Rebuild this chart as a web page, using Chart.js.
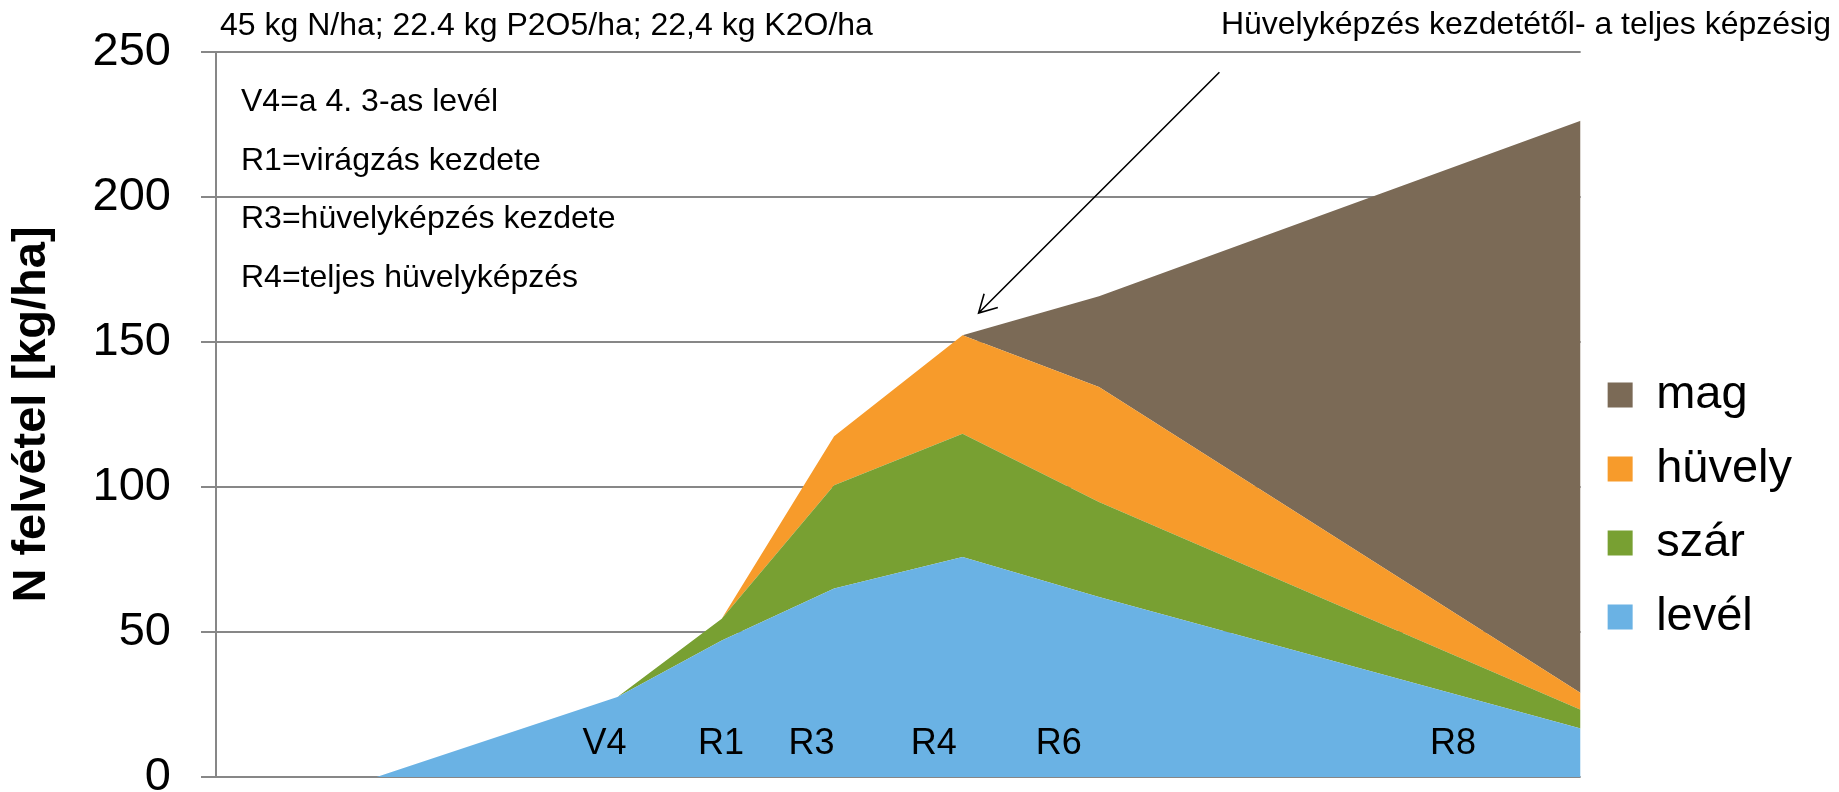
<!DOCTYPE html>
<html>
<head>
<meta charset="utf-8">
<script src="https://cdn.jsdelivr.net/npm/chart.js@4"></script>
<style>
html,body{margin:0;padding:0;background:#fff;}
canvas{display:block;}
</style>
</head>
<body>
<canvas id="c" width="1839" height="792"></canvas>
<script>
// ---- data (days after emergence, N uptake kg/ha per plant part) ----
const days   = [20, 50, 63, 77, 93, 110, 170];
const level  = [0, 27.6, 47.1, 65.0, 75.9, 62.1, 16.7];
const szar   = [0, 0, 7.5, 35.6, 42.5, 32.7, 6.5];
const huvely = [0, 0, 0, 16.9, 33.9, 39.7, 5.8];
const mag    = [0, 0, 0, 0, 0, 31.3, 197.3];
const seriesNames = ['levél', 'szár', 'hüvely', 'mag'];
const yTickValues = [0, 50, 100, 150, 200, 250];
const stageNames = ['V4', 'R1', 'R3', 'R4', 'R6', 'R8'];
const stageLabelDays = [48.4, 62.9, 74.2, 89.4, 105.0, 154.1];
const stageLabelBase = 7.8;
const headerText = '45 kg N/ha; 22.4 kg P2O5/ha; 22,4 kg K2O/ha';
const noteLines = ['V4=a 4. 3-as levél', 'R1=virágzás kezdete', 'R3=hüvelyképzés kezdete', 'R4=teljes hüvelyképzés'];
const arrowText = 'Hüvelyképzés kezdetétől- a teljes képzésig';
const arrowFrom = [125, 243];
const arrowTo = [95, 160];
const yTitle = 'N felvétel [kg/ha]';

const FAM = '"Liberation Sans", Arial, Helvetica, sans-serif';
const colors = ['#6AB2E4', '#78A032', '#F79B2B', '#7B6A56'];
const seriesValues = [level, szar, huvely, mag];

const datasets = seriesValues.map((vals, k) => ({
  label: seriesNames[k],
  data: days.map((d, i) => ({x: d, y: vals[i]})),
  backgroundColor: colors[k],
  borderColor: colors[k],
  borderWidth: 0,
  pointRadius: 0,
  pointHoverRadius: 0,
  tension: 0,
  fill: k === 0 ? 'origin' : '-1'
}));

const annotations = {
  id: 'annotations',
  afterDatasetsDraw(chart) {
    const {ctx, scales: {x, y}} = chart;
    ctx.save();
    ctx.fillStyle = '#000';
    ctx.textBaseline = 'alphabetic';
    // stage labels inside plot
    ctx.font = '36px ' + FAM;
    ctx.textAlign = 'center';
    stageNames.forEach((n, i) => {
      ctx.fillText(n, x.getPixelForValue(stageLabelDays[i]), y.getPixelForValue(stageLabelBase));
    });
    // header / notes
    ctx.font = '32px ' + FAM;
    ctx.textAlign = 'left';
    ctx.fillText(headerText, 220, 35);
    noteLines.forEach((t, i) => ctx.fillText(t, 241, 111 + i * 58.5));
    ctx.textAlign = 'right';
    ctx.fillText(arrowText, 1831, 34);
    // arrow
    const x1 = x.getPixelForValue(arrowFrom[0]), y1 = y.getPixelForValue(arrowFrom[1]);
    const x2 = x.getPixelForValue(arrowTo[0]), y2 = y.getPixelForValue(arrowTo[1]);
    ctx.strokeStyle = '#000';
    ctx.lineWidth = 1.6;
    ctx.beginPath();
    ctx.moveTo(x1, y1);
    ctx.lineTo(x2, y2);
    const ang = Math.atan2(y1 - y2, x1 - x2);
    const hl = 20, ha = 29 * Math.PI / 180;
    ctx.moveTo(x2 + hl * Math.cos(ang - ha), y2 + hl * Math.sin(ang - ha));
    ctx.lineTo(x2, y2);
    ctx.lineTo(x2 + hl * Math.cos(ang + ha), y2 + hl * Math.sin(ang + ha));
    ctx.stroke();
    ctx.restore();
  }
};

new Chart(document.getElementById('c'), {
  type: 'line',
  data: {datasets},
  options: {
    responsive: false,
    animation: false,
    devicePixelRatio: 1,
    layout: {padding: {left: 0, right: 37, top: 52, bottom: 15}},
    scales: {
      x: {
        type: 'linear',
        min: 0,
        max: 170,
        display: false
      },
      y: {
        stacked: true,
        min: 0,
        max: 250,
        afterFit(s) { s.width = 216; s.paddingTop = 0; s.paddingBottom = 0; },
        afterBuildTicks(s) { s.ticks = yTickValues.map(v => ({value: v})); },
        ticks: {
          color: '#000',
          padding: 30,
          font: {family: FAM, size: 47}
        },
        grid: {
          color: '#878787',
          lineWidth: 2,
          tickLength: 15,
          tickColor: '#878787'
        },
        border: {display: true, color: '#878787', width: 2},
        title: {
          display: true,
          text: yTitle,
          color: '#000',
          padding: {top: 4, bottom: 0},
          font: {family: FAM, size: 47, weight: 'bold'}
        }
      }
    },
    plugins: {
      tooltip: {enabled: false},
      legend: {
        position: 'right',
        align: 'start',
        reverse: true,
        title: {display: true, text: '', padding: {top: 278, bottom: 0}, font: {size: 12}},
        labels: {
          boxWidth: 25,
          boxHeight: 25,
          padding: 27,
          color: '#000',
          font: {family: FAM, size: 47}
        }
      }
    }
  },
  plugins: [annotations]
});
</script>
</body>
</html>
